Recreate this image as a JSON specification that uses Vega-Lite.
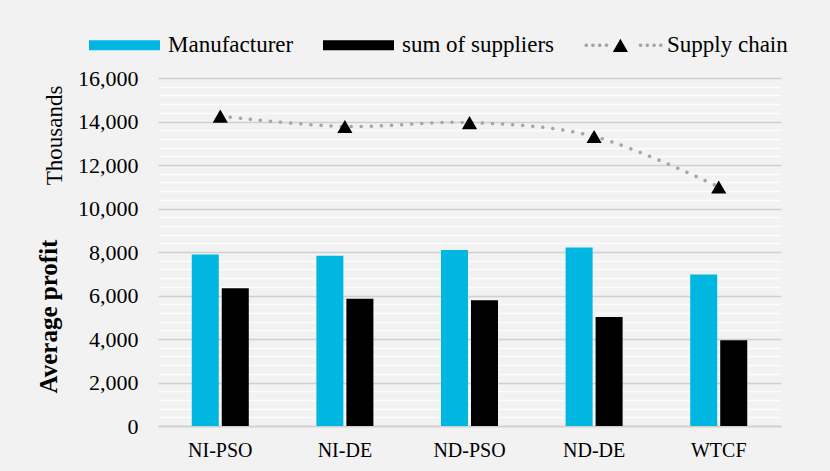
{
  "$schema": "https://vega.github.io/schema/vega-lite/v6.json",
  "width": 623,
  "height": 348,
  "autosize": {"type": "none"},
  "padding": {"left": 158, "top": 78, "right": 49, "bottom": 45},
  "background": "#f2f2f2",
  "config": {"view": {"stroke": null}, "font": "Liberation Serif"},
  "data": {
    "values": [
      {"scheme": "NI-PSO", "series": "Manufacturer", "value": 7880},
      {"scheme": "NI-PSO", "series": "sum of suppliers", "value": 6330},
      {"scheme": "NI-PSO", "series": "Supply chain", "value": 14250},
      {"scheme": "NI-DE", "series": "Manufacturer", "value": 7830},
      {"scheme": "NI-DE", "series": "sum of suppliers", "value": 5850},
      {"scheme": "NI-DE", "series": "Supply chain", "value": 13770},
      {"scheme": "ND-PSO", "series": "Manufacturer", "value": 8090},
      {"scheme": "ND-PSO", "series": "sum of suppliers", "value": 5780},
      {"scheme": "ND-PSO", "series": "Supply chain", "value": 13950},
      {"scheme": "ND-DE", "series": "Manufacturer", "value": 8210},
      {"scheme": "ND-DE", "series": "sum of suppliers", "value": 5010},
      {"scheme": "ND-DE", "series": "Supply chain", "value": 13310},
      {"scheme": "WTCF", "series": "Manufacturer", "value": 6970},
      {"scheme": "WTCF", "series": "sum of suppliers", "value": 3940},
      {"scheme": "WTCF", "series": "Supply chain", "value": 10990}
    ]
  },
  "encoding": {
    "x": {
      "field": "scheme",
      "type": "nominal",
      "scale": {
        "domain": ["NI-PSO", "NI-DE", "ND-PSO", "ND-DE", "WTCF"],
        "paddingInner": 0.5425,
        "paddingOuter": 0.271
      },
      "axis": {
        "title": null,
        "ticks": false,
        "domain": true,
        "domainColor": "#d0d0d0",
        "domainWidth": 1.5,
        "labelAngle": 0,
        "labelFont": "Liberation Serif",
        "labelFontSize": 20,
        "labelColor": "#000000",
        "labelPadding": 14
      }
    }
  },
  "layer": [
    {
      "transform": [{"filter": "datum.series !== 'Supply chain'"}],
      "mark": {"type": "bar"},
      "encoding": {
        "xOffset": {
          "field": "series",
          "type": "nominal",
          "scale": {"domain": ["Manufacturer", "sum of suppliers"], "paddingInner": 0.1, "paddingOuter": 0}
        },
        "y": {
          "field": "value",
          "type": "quantitative",
          "scale": {"domain": [0, 16000], "nice": false},
          "axis": {
            "values": [0, 400, 800, 1200, 1600, 2000, 2400, 2800, 3200, 3600, 4000, 4400, 4800, 5200, 5600, 6000, 6400, 6800, 7200, 7600, 8000, 8400, 8800, 9200, 9600, 10000, 10400, 10800, 11200, 11600, 12000, 12400, 12800, 13200, 13600, 14000, 14400, 14800, 15200, 15600, 16000],
            "labelExpr": "datum.value % 2000 === 0 ? format(datum.value, ',') : ''",
            "labelFont": "Liberation Serif",
            "labelFontSize": 22,
            "labelColor": "#000000",
            "labelPadding": 20,
            "labelOverlap": false,
            "ticks": false,
            "domain": false,
            "grid": true,
            "gridColor": {"condition": {"test": "datum.value % 2000 === 0", "value": "#d0d0d0"}, "value": "#fcfcfc"},
            "gridWidth": 1.5,
            "title": "Average profit",
            "titleFont": "Liberation Serif",
            "titleFontSize": 25,
            "titleFontWeight": "bold",
            "titleColor": "#000000",
            "titleAngle": -90,
            "titleAlign": "center",
            "titleBaseline": "alphabetic",
            "titleX": -102,
            "titleY": 238
          }
        },
        "color": {
          "field": "series",
          "type": "nominal",
          "scale": {
            "domain": ["Manufacturer", "sum of suppliers", "Supply chain"],
            "range": ["#00b7e1", "#000000", "#a6a6a6"]
          },
          "legend": {
            "orient": "none",
            "legendX": -69,
            "legendY": -68.5,
            "direction": "horizontal",
            "title": null,
            "padding": 0,
            "symbolSize": 5041,
            "symbolStrokeWidth": 0,
            "labelFont": "Liberation Serif",
            "labelFontSize": 23,
            "labelColor": "#000000",
            "labelOffset": 8,
            "labelLimit": 400,
            "columnPadding": 29,
            "encode": {
              "symbols": {
                "update": {
                  "shape": {
                    "signal": "datum.value === 'Supply chain' ? 'M-1.1,-0.02L-1.07,-0.05L-1.03,-0.05L-1,-0.02L-1,0.02L-1.03,0.05L-1.07,0.05L-1.1,0.02ZM-0.91,-0.02L-0.88,-0.05L-0.84,-0.05L-0.81,-0.02L-0.81,0.02L-0.84,0.05L-0.88,0.05L-0.91,0.02ZM-0.72,-0.02L-0.69,-0.05L-0.65,-0.05L-0.62,-0.02L-0.62,0.02L-0.65,0.05L-0.69,0.05L-0.72,0.02ZM-0.53,-0.02L-0.5,-0.05L-0.46,-0.05L-0.43,-0.02L-0.43,0.02L-0.46,0.05L-0.5,0.05L-0.53,0.02ZM0.43,-0.02L0.46,-0.05L0.5,-0.05L0.53,-0.02L0.53,0.02L0.5,0.05L0.46,0.05L0.43,0.02ZM0.62,-0.02L0.65,-0.05L0.69,-0.05L0.72,-0.02L0.72,0.02L0.69,0.05L0.65,0.05L0.62,0.02ZM0.81,-0.02L0.84,-0.05L0.88,-0.05L0.91,-0.02L0.91,0.02L0.88,0.05L0.84,0.05L0.81,0.02ZM1,-0.02L1.03,-0.05L1.07,-0.05L1.1,-0.02L1.1,0.02L1.07,0.05L1.03,0.05L1,0.02Z' : 'M-1,-0.14H1V0.14H-1Z'"
                  }
                }
              }
            }
          }
        }
      }
    },
    {
      "transform": [{"filter": "datum.series === 'Supply chain'"}],
      "mark": {
        "type": "line",
        "color": "#a6a6a6",
        "strokeWidth": 3.5,
        "strokeDash": [0.1, 10],
        "strokeCap": "round",
        "interpolate": "cardinal"
      },
      "encoding": {
        "y": {"field": "value", "type": "quantitative", "axis": null}
      }
    },
    {
      "transform": [{"filter": "datum.series === 'Supply chain'"}],
      "mark": {"type": "point", "filled": true, "color": "#000000", "opacity": 1, "size": 230},
      "encoding": {
        "y": {
          "field": "value",
          "type": "quantitative",
          "axis": {
            "orient": "right",
            "labels": false,
            "ticks": false,
            "domain": false,
            "grid": false,
            "title": "Thousands",
            "titleFont": "Liberation Serif",
            "titleFontSize": 23,
            "titleFontWeight": "normal",
            "titleColor": "#000000",
            "titleAngle": -90,
            "titleAlign": "center",
            "titleBaseline": "alphabetic",
            "titleX": -719.3,
            "titleY": 57
          }
        },
        "shape": {
          "field": "series",
          "type": "nominal",
          "scale": {"range": ["triangle-up"]},
          "legend": {
            "orient": "none",
            "legendX": 454.4,
            "legendY": -40.6,
            "title": null,
            "padding": 0,
            "symbolSize": 230,
            "symbolFillColor": "#000000",
            "symbolStrokeWidth": 0,
            "labelExpr": "''",
            "labelFontSize": 1
          }
        }
      }
    }
  ],
  "resolve": {"axis": {"y": "independent"}}
}
